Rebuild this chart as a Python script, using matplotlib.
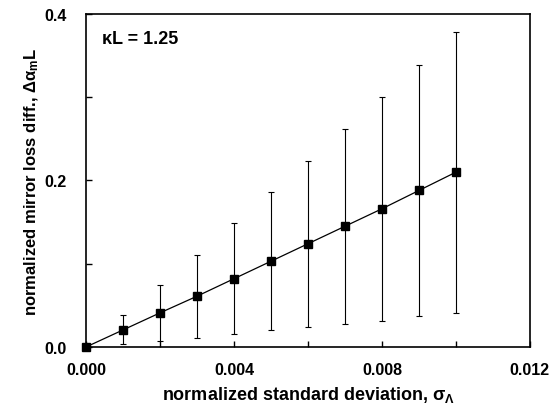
import numpy as np
import matplotlib
matplotlib.use("Agg")
import matplotlib.pyplot as plt
from matplotlib.ticker import MultipleLocator, FormatStrFormatter

plt.rcParams.update({"font.family": "Liberation Sans", "font.weight": "bold"})

# data
sigma = [0.0, 0.001, 0.002, 0.003, 0.004, 0.005, 0.006, 0.007, 0.008, 0.009, 0.010]
dalpha = [0.0, 0.0205, 0.041, 0.061, 0.082, 0.103, 0.124, 0.145, 0.166, 0.188, 0.210]
upper = [0.0, 0.038, 0.074, 0.111, 0.149, 0.186, 0.224, 0.262, 0.300, 0.339, 0.378]
lower = [0.0, 0.004, 0.007, 0.011, 0.016, 0.020, 0.024, 0.028, 0.031, 0.037, 0.041]

x = np.array(sigma)
y = np.array(dalpha)
yerr = [y - np.array(lower), np.array(upper) - y]

fig = plt.figure(figsize=(5.56, 4.14), dpi=100)
ax = fig.add_axes([0.1547, 0.1594, 0.7983, 0.8044])

ax.errorbar(x, y, yerr=yerr, fmt="none", ecolor="black", elinewidth=0.8,
            capsize=2.5, capthick=0.8)
ax.plot(x, y, "-", color="black", lw=0.9, marker="s", markersize=6,
        markerfacecolor="black", clip_on=False, zorder=3)

ax.set_xlim(0, 0.012)
ax.set_ylim(0, 0.4)
ax.xaxis.set_major_locator(MultipleLocator(0.004))
ax.xaxis.set_minor_locator(MultipleLocator(0.002))
ax.yaxis.set_major_locator(MultipleLocator(0.2))
ax.yaxis.set_minor_locator(MultipleLocator(0.1))
ax.xaxis.set_major_formatter(FormatStrFormatter("%.3f"))
ax.yaxis.set_major_formatter(FormatStrFormatter("%.1f"))
ax.tick_params(which="both", direction="in", top=False, right=False,
               length=4, width=1, labelsize=11.5)
ax.tick_params(axis="x", pad=11)
ax.tick_params(axis="y", pad=14)
for s in ax.spines.values():
    s.set_linewidth(1.2)

ax.set_xlabel(r"normalized standard deviation, $\mathregular{\sigma_\Lambda}$",
              fontsize=13, fontweight="bold", labelpad=5)
ax.set_ylabel(r"normalized mirror loss diff., $\mathregular{\Delta\alpha_m}$L",
              fontsize=12, fontweight="bold", labelpad=2)
ax.text(0.035, 0.925, "κL = 1.25", transform=ax.transAxes,
        fontsize=13, fontweight="bold", va="center")

fig.savefig("out.png", dpi=100, facecolor="white")
